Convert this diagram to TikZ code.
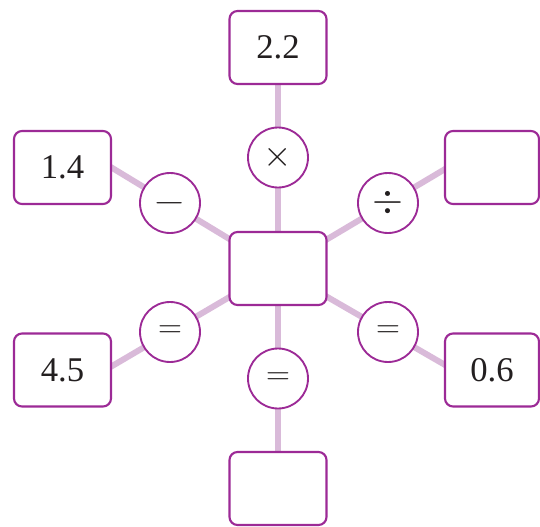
\documentclass[tikz,border=0pt]{standalone}
\usepackage{fontspec}
\setmainfont{Liberation Serif}
\usetikzlibrary{calc,backgrounds}
\definecolor{frame}{HTML}{9C2A96}
\definecolor{link}{HTML}{D9BAD9}
\definecolor{ink}{HTML}{231F20}
\begin{document}
\begin{tikzpicture}[x=0.75pt,y=-0.75pt,
  numbox/.style={draw=frame,line width=1.6pt,fill=white,rounded corners=6pt,
    minimum width=72.75pt,minimum height=54.75pt,inner sep=0pt,
    font=\fontsize{26}{30}\selectfont,text=ink},
  opcirc/.style={draw=frame,line width=1.4pt,fill=white,circle,
    minimum size=45pt,inner sep=0pt,font=\fontsize{25}{30}\selectfont,text=ink},
  conn/.style={draw=link,line width=4.5pt}]
\useasboundingbox (0,0) rectangle (540,526);
% boxes
\node[numbox] (top) at (278,47.5) {2.2};
\node[numbox] (mid) at (278,268.5) {};
\node[numbox] (bot) at (278,488.5) {};
\node[numbox] (tl) at (62.5,167.5) {1.4};
\node[numbox,minimum width=70.5pt] (tr) at (492,167.5) {};
\node[numbox] (bl) at (62.5,370) {4.5};
\node[numbox,minimum width=70.5pt] (br) at (492,370) {0.6};
% operators
\node[opcirc] (times) at (278,157.5) {\scalebox{1.1}{$\times$}};
\node[opcirc] (minus) at (170,203) {\scalebox{1.25}[1]{$-$}};
\node[opcirc] (div) at (388,203) {\scalebox{1.2}{$\div$}};
\node[opcirc] (eqL) at (170,332) {$=$};
\node[opcirc] (eqR) at (388,332) {$=$};
\node[opcirc] (eqB) at (278,378.5) {$=$};
% connectors
\begin{scope}[on background layer]
\draw[conn] (top.center) -- (times.center) -- (mid.center);
\draw[conn] (mid.center) -- (eqB.center) -- (bot.center);
\coordinate (tlend) at ($(mid.center)!2!(minus.center)$);
\coordinate (trend) at ($(mid.center)!2!(div.center)$);
\coordinate (blend) at ($(mid.center)!2!(eqL.center)$);
\coordinate (brend) at ($(mid.center)!2!(eqR.center)$);
\draw[conn] (mid.center) -- (minus.center) -- (tlend);
\draw[conn] (mid.center) -- (div.center) -- (trend);
\draw[conn] (mid.center) -- (eqL.center) -- (blend);
\draw[conn] (mid.center) -- (eqR.center) -- (brend);
\end{scope}
\end{tikzpicture}
\end{document}
